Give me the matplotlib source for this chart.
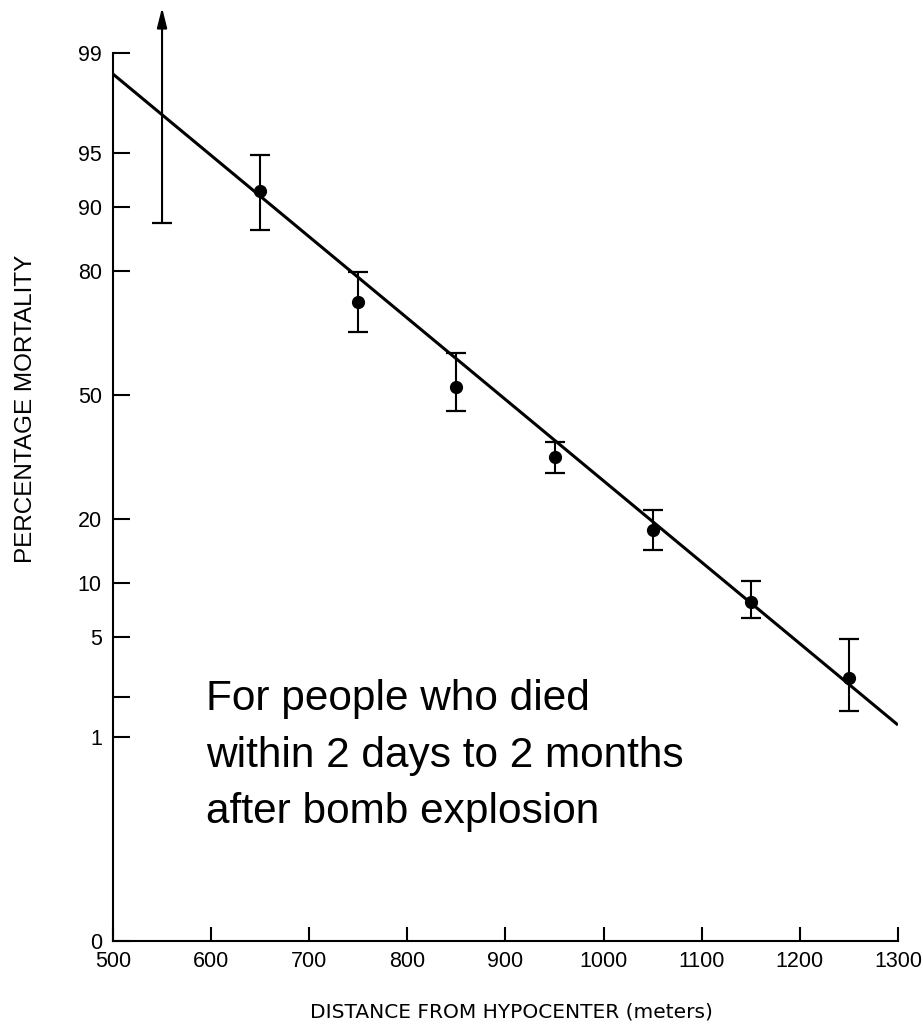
import math

import matplotlib

matplotlib.use("Agg")
import matplotlib.pyplot as plt
import numpy as np
from matplotlib import font_manager

plt.rcParams["font.family"] = ["Liberation Sans", "DejaVu Sans"]

# measured points, percent mortality with upper/lower limits
DISTANCE_M = [650, 750, 850, 950, 1050, 1150, 1250]
MORTALITY_PCT = [91.7, 73.6, 52.2, 33.7, 17.9, 7.96, 2.71]
MORTALITY_HIGH = [94.9, 79.9, 61.2, 37.5, 21.7, 10.3, 4.85]
MORTALITY_LOW = [86.9, 66.6, 45.7, 29.8, 14.6, 6.46, 1.58]

# open-ended estimate at 550 m (lower limit only)
OPEN_DISTANCE = 550
OPEN_LOW = 87.9
OPEN_HIGH = 99.58

# fitted probit line
FIT_DISTANCE = [500, 1300]
FIT_PCT = [98.55, 1.24]

X_TICKS = list(range(500, 1301, 100))
Y_TICKS = [99, 95, 90, 80, 50, 20, 10, 5, 2, 1]
Y_TICK_LABELS = ["99", "95", "90", "80", "50", "20", "10", "5", "", "1"]
Y_FLOOR = 0.0102  # bottom edge of the probability paper, printed as "0"

NOTE = "For people who died\nwithin 2 days to 2 months\nafter bomb explosion"

_erf = np.vectorize(math.erf, otypes=[float])


def _cdf_pct(z):
    z = np.asarray(z, dtype=float)
    return 50.0 * (1.0 + _erf(z / math.sqrt(2.0)))


def _ppf_pct(p):
    p = np.clip(np.asarray(p, dtype=float), 1e-9, 100 - 1e-9)
    lo = np.full(p.shape, -10.0)
    hi = np.full(p.shape, 10.0)
    for _ in range(60):
        mid = 0.5 * (lo + hi)
        below = _cdf_pct(mid) < p
        lo = np.where(below, mid, lo)
        hi = np.where(below, hi, mid)
    return 0.5 * (lo + hi)


installed = {f.name for f in font_manager.fontManager.ttflist}
if "Liberation Sans Narrow" in installed:
    note_family, note_size, note_spacing = "Liberation Sans Narrow", 35.5, 1.33
else:
    note_family, note_size, note_spacing = "Liberation Sans", 30.5, 1.53

fig = plt.figure(figsize=(9.23, 10.26), dpi=100)
ax = fig.add_axes([0.1224, 0.0828, 0.8505, 0.8655])
ax.set_yscale("function", functions=(_ppf_pct, _cdf_pct))

ax.plot(FIT_DISTANCE, FIT_PCT, color="black", lw=2.2, solid_capstyle="butt")

yerr = [
    np.array(MORTALITY_PCT) - np.array(MORTALITY_LOW),
    np.array(MORTALITY_HIGH) - np.array(MORTALITY_PCT),
]
ax.errorbar(
    DISTANCE_M,
    MORTALITY_PCT,
    yerr=yerr,
    fmt="o",
    color="black",
    markersize=8.5,
    elinewidth=1.5,
    capsize=7,
    capthick=1.6,
)

ax.plot([OPEN_DISTANCE], [OPEN_LOW], marker="_", color="black",
        markersize=14, mew=1.6)
ax.annotate(
    "",
    xy=(OPEN_DISTANCE, OPEN_HIGH),
    xytext=(OPEN_DISTANCE, OPEN_LOW),
    annotation_clip=False,
    arrowprops=dict(arrowstyle="-|>,head_length=0.6,head_width=0.15",
                    color="black", lw=1.5, mutation_scale=20,
                    shrinkA=0, shrinkB=0),
)

ax.set_xlim(500, 1300)
ax.set_ylim(Y_FLOOR, 99)
ax.set_xticks(X_TICKS)
ax.set_yticks(Y_TICKS + [Y_FLOOR])
ax.set_yticklabels(Y_TICK_LABELS + ["0"])
ax.yaxis.set_minor_locator(plt.NullLocator())
ax.xaxis.set_minor_locator(plt.NullLocator())

ax.tick_params(axis="y", direction="in", length=12, width=1.5,
               labelsize=15.5, pad=8)
ax.tick_params(axis="x", direction="in", length=10, width=1.5,
               labelsize=15.5, pad=7)

for side in ("top", "right"):
    ax.spines[side].set_visible(False)
for side in ("left", "bottom"):
    ax.spines[side].set_linewidth(1.5)

ax.set_xlabel("DISTANCE FROM HYPOCENTER (meters)", fontsize=14.5,
              family=["DejaVu Sans"])
ax.xaxis.set_label_coords(0.507, -0.0695)
ax.set_ylabel("PERCENTAGE MORTALITY", fontsize=17.5)
ax.yaxis.set_label_coords(-0.0968, 0.599)

fig.text(
    206 / 923,
    1 - 823 / 1026,
    NOTE,
    fontsize=note_size,
    family=[note_family, "DejaVu Sans"],
    va="baseline",
    ha="left",
    linespacing=note_spacing,
)

fig.savefig("out.png", dpi=100)
